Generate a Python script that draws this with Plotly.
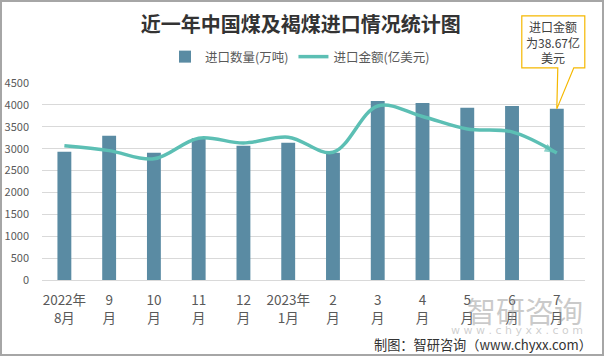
import plotly.graph_objects as go

# ---- data ----
months = ["2022年<br>8月", "9<br>月", "10<br>月", "11<br>月", "12<br>月", "2023年<br>1月",
          "2<br>月", "3<br>月", "4<br>月", "5<br>月", "6<br>月", "7<br>月"]
quantity = [2932, 3295, 2909, 3240, 3068, 3136, 2909, 4091, 4045, 3932, 3977, 3909]   # 万吨
amount = [40.9, 39.4, 36.9, 43.2, 41.7, 43.5, 38.9, 53.0, 49.8, 46.0, 45.1, 38.67]     # 亿美元

title = "近一年中国煤及褐煤进口情况统计图"
name_q = "进口数量(万吨)"
name_a = "进口金额(亿美元)"

FONT = "Noto Sans CJK SC"
BAR_C = "#5A8BA3"
LINE_C = "#5CBFB4"
GOLD = "#F5B800"
Y_MAX = 4500
Y2_MAX = 60

n = len(months)
X_RANGE = [-0.5, n - 0.37]
sizes = [10] + [0] * (n - 2) + [13]
symbols = ["circle"] + ["circle"] * (n - 2) + ["arrow"]

fig = go.Figure()
fig.add_trace(go.Bar(x=months, y=quantity, name=name_q, marker=dict(color=BAR_C, line=dict(width=0)),
                     yaxis="y"))
fig.add_trace(go.Scatter(x=months, y=amount, name=name_a, yaxis="y2", mode="lines+markers",
                         line=dict(color=LINE_C, width=3.5, shape="spline", smoothing=1),
                         marker=dict(color=LINE_C, size=sizes, symbol=symbols, angleref="previous",
                                     line=dict(width=0))))

L, R, T, B = 42, 20, 83, 76
W, H = 605, 356
pw, ph = W - L - R, H - T - B

def px2paper_x(px):
    return (px - L) / pw

def px2paper_y(py):
    return (H - B - py) / ph

# callout box (pixel path relative to top of last bar), paper-referenced so it is not clipped
tip_x = ((n - 1) - X_RANGE[0]) / (X_RANGE[1] - X_RANGE[0])
tip_y = quantity[-1] / Y_MAX
fig.add_shape(type="path", xref="paper", yref="paper", xsizemode="pixel", ysizemode="pixel",
              xanchor=tip_x, yanchor=tip_y,
              path="M 0,0 L 17,41 L 28,41 L 28,93 L -35,93 L -35,41 L 1,41 Z",
              fillcolor="white", line=dict(color=GOLD, width=1.2), layer="above")
fig.add_annotation(x=n - 1, y=quantity[-1], xref="x", yref="y", showarrow=False,
                   xshift=-3.5, yshift=67, yanchor="middle", xanchor="center",
                   text=f"进口金额<br>为{amount[-1]:.2f}亿<br>美元",
                   font=dict(family=FONT, size=12, color="#404040"))

# outer border
fig.add_shape(type="rect", xref="paper", yref="paper",
              x0=px2paper_x(1), x1=px2paper_x(603), y0=px2paper_y(355), y1=px2paper_y(1),
              line=dict(color="#A6A6A6", width=2), fillcolor="rgba(0,0,0,0)", layer="above")

# watermark
fig.add_annotation(xref="paper", yref="paper", x=px2paper_x(585), y=px2paper_y(309.5),
                   xanchor="right", yanchor="middle", showarrow=False, text="智研咨询",
                   font=dict(family=FONT, size=29, color="rgba(150,150,150,0.5)"))
fig.add_annotation(xref="paper", yref="paper", x=px2paper_x(585), y=px2paper_y(330),
                   xanchor="right", yanchor="middle", showarrow=False,
                   text="w w w . c h y x x . c o m",
                   font=dict(family="DejaVu Sans", size=11, color="rgba(160,160,160,0.5)"))
fig.add_annotation(xref="paper", yref="paper", x=px2paper_x(594), y=px2paper_y(344.7),
                   xanchor="right", yanchor="middle", showarrow=False,
                   text="制图：智研咨询（www.chyxx.com）",
                   font=dict(family=FONT, size=13.2, color="#333333"))

fig.update_layout(
    width=W, height=H, margin=dict(l=L, r=R, t=T, b=B, autoexpand=False),
    paper_bgcolor="white", plot_bgcolor="white",
    title=dict(text=f"<b>{title}</b>", x=0.497, xref="container", xanchor="center",
               y=1 - 25 / H, yref="container", yanchor="middle",
               font=dict(family=FONT, size=20, color="#333333")),
    font=dict(family=FONT, color="#595959"),
    bargap=0.69,
    showlegend=True,
    legend=dict(orientation="h", x=px2paper_x(300), xanchor="center", y=px2paper_y(57),
                yanchor="middle", font=dict(family=FONT, size=12.5, color="#595959"),
                bgcolor="rgba(0,0,0,0)", itemwidth=30),
    xaxis=dict(type="category", range=X_RANGE, showgrid=False, showline=False, zeroline=False,
               ticks="outside", ticklen=8, tickcolor="rgba(0,0,0,0)",
               tickfont=dict(family=FONT, size=13.5, color="#595959")),
    yaxis=dict(range=[0, Y_MAX], dtick=500, showgrid=True, gridcolor="#D9D9D9", gridwidth=1,
               zeroline=True, zerolinecolor="#D9D9D9", zerolinewidth=1, showline=False,
               ticks="", ticklabelstandoff=12,
               tickfont=dict(family=FONT, size=11, color="#595959")),
    yaxis2=dict(range=[0, Y2_MAX], overlaying="y", side="right", visible=False),
)

fig.write_html("out.html", config={"displayModeBar": False},
               post_script="document.body.style.margin='0';document.body.style.overflow='hidden';")
